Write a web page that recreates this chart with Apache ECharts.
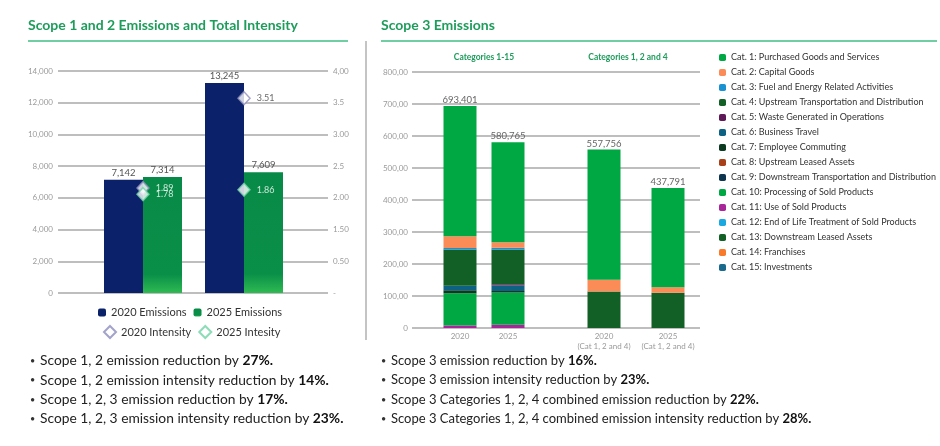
<!DOCTYPE html>
<html>
<head>
<meta charset="utf-8">
<script src="https://cdn.jsdelivr.net/npm/echarts@6/dist/echarts.min.js"></script>
<style>
  html, body { margin: 0; padding: 0; background: #fff; }
  #main { width: 940px; height: 446px; }
</style>
</head>
<body>
<div id="main"></div>
<script>
// ---- Scope 1 and 2 data ----
const scope12Groups = ['Group A', 'Group B'];
const emissions2020 = [7142, 13245];
const emissions2025 = [7314, 7609];
const intensity2020 = [1.89, 3.51];
const intensity2025 = [1.78, 1.86];
const intensityTickLabels = ['-', '0.50', '1.50', '2.00', '2.5', '3.00', '3.5', '4,00'];

// ---- Scope 3 data (tonnes) ----
const scope3Bars = ['2020', '2025', '2020\n(Cat 1, 2 and 4)', '2025\n(Cat 1, 2 and 4)'];
const scope3Totals = [693401, 580765, 557756, 437791];
const scope3TickLabels = ['0', '100,00', '200,00', '300,00', '400,00', '500,00', '600,00', '700,00', '800,00'];
const catNames = [
    'Cat. 1: Purchased Goods and Services',
    'Cat. 2: Capital Goods',
    'Cat. 3: Fuel and Energy Related Activities',
    'Cat. 4: Upstream Transportation and Distribution',
    'Cat. 5: Waste Generated in Operations',
    'Cat. 6: Business Travel',
    'Cat. 7: Employee Commuting',
    'Cat. 8: Upstream Leased Assets',
    'Cat. 9: Downstream Transportation and Distribution',
    'Cat. 10: Processing of Sold Products',
    'Cat. 11: Use of Sold Products',
    'Cat. 12: End of Life Treatment of Sold Products',
    'Cat. 13: Downstream Leased Assets',
    'Cat. 14: Franchises',
    'Cat. 15: Investments'
];
const cat1 = [406756, 312765, 406756, 310791];
const cat2 = [37000, 17000, 37000, 17000];
const cat3 = [4000, 6000, 0, 0];
const cat4 = [114000, 108000, 114000, 110000];
const cat5 = [0, 4000, 0, 0];
const cat6 = [14000, 17000, 0, 0];
const cat7 = [9000, 5000, 0, 0];
const cat8 = [0, 0, 0, 0];
const cat9 = [0, 0, 0, 0];
const cat10 = [101000, 101000, 0, 0];
const cat11 = [7645, 10000, 0, 0];
const cat12 = [0, 0, 0, 0];
const cat13 = [0, 0, 0, 0];
const cat14 = [0, 0, 0, 0];
const cat15 = [0, 0, 0, 0];

const scope12Notes = [
    ['Scope 1, 2 emission reduction by ', '27%.'],
    ['Scope 1, 2 emission intensity reduction by ', '14%.'],
    ['Scope 1, 2, 3 emission reduction by ', '17%.'],
    ['Scope 1, 2, 3 emission intensity reduction by ', '23%.']
];
const scope3Notes = [
    ['Scope 3 emission reduction by ', '16%.'],
    ['Scope 3 emission intensity reduction by ', '23%.'],
    ['Scope 3 Categories 1, 2, 4 combined emission reduction by ', '22%.'],
    ['Scope 3 Categories 1, 2, 4 combined emission intensity reduction by ', '28%.']
];

// ---- layout / colours ----
const FONT = 'Lato';
const GREEN_TITLE = '#1d9c5b';
const catColors = ['#00a843', '#fb8c57', '#1a91d1', '#136027', '#5e1a56', '#0d6283',
    '#0b3a20', '#a8401a', '#0d3550', '#00a843', '#a8259a', '#1aa8e0', '#136027', '#f87a2a', '#1a6a8e'];
const catStack = [cat1, cat2, cat3, cat4, cat5, cat6, cat7, cat8, cat9, cat10, cat11, cat12, cat13, cat14, cat15];
const slotCount = 19;
const barSlots = [3, 6, 12, 16];
const dividerSlot = 9;

let slotLabels = [];
for (let i = 0; i < slotCount; i++) slotLabels.push('');
barSlots.forEach((s, i) => { slotLabels[s] = scope3Bars[i]; });

function spread(vals) {
    let out = [];
    for (let i = 0; i < slotCount; i++) out.push(null);
    barSlots.forEach((s, i) => { out[s] = vals[i]; });
    return out;
}

let chart = echarts.init(document.getElementById('main'));

// intensity points: label sits over the 2025 bar, dark when above it
function intensityData(vals) {
    return vals.map((v, i) => ({
        value: v,
        label: { color: v > emissions2025[i] / 14000 * 4 ? '#444' : '#fff' }
    }));
}

// scope 3 stacked series, Cat 15 at the bottom up to Cat 1 on top
let scope3Series = [];
for (let k = catStack.length - 1; k >= 0; k--) {
    let s = {
        name: catNames[k],
        type: 'bar',
        stack: 'scope3',
        xAxisIndex: 2,
        yAxisIndex: 4,
        barWidth: 33,
        itemStyle: { color: catColors[k] },
        data: spread(catStack[k])
    };
    if (k === 0) {
        s.label = {
            show: true,
            position: 'top',
            distance: 1,
            color: '#666',
            fontSize: 9.5,
            fontFamily: FONT,
            formatter: p => scope3Totals[barSlots.indexOf(p.dataIndex)].toLocaleString('en-US')
        };
        s.markLine = {
            silent: true,
            symbol: 'none',
            label: { show: false },
            lineStyle: { type: 'dotted', color: '#999', width: 1.3 },
            data: [[{ coord: [dividerSlot, 860000] }, { coord: [dividerSlot, 25000] }]]
        };
    }
    scope3Series.push(s);
}

let graphics = [
    { type: 'text', left: 28, top: 18, style: { text: 'Scope 1 and 2 Emissions and Total Intensity', fill: GREEN_TITLE, font: 'bold 14px ' + FONT } },
    { type: 'text', left: 381, top: 18, style: { text: 'Scope 3 Emissions', fill: GREEN_TITLE, font: 'bold 14px ' + FONT } },
    { type: 'line', shape: { x1: 28, y1: 41, x2: 348, y2: 41 }, style: { stroke: '#6fcfa2', lineWidth: 2 } },
    { type: 'line', shape: { x1: 381, y1: 41, x2: 937, y2: 41 }, style: { stroke: '#6fcfa2', lineWidth: 2 } },
    { type: 'line', shape: { x1: 366, y1: 41, x2: 366, y2: 340 }, style: { stroke: '#b0b0b0', lineWidth: 1.5 } },
    { type: 'text', x: 484, y: 57, style: { text: 'Categories 1-15', fill: GREEN_TITLE, font: 'bold 8.5px ' + FONT, align: 'center', verticalAlign: 'middle' } },
    { type: 'text', x: 628, y: 57, style: { text: 'Categories 1, 2 and 4', fill: GREEN_TITLE, font: 'bold 8.5px ' + FONT, align: 'center', verticalAlign: 'middle' } }
];

function addNotes(notes, x, size) {
    notes.forEach((n, i) => {
        let y = 361 + i * 19.3;
        graphics.push({ type: 'text', x: x, y: y, style: { text: '•', fill: '#333', font: '9px ' + FONT, verticalAlign: 'middle' } });
        graphics.push({
            type: 'text', x: x + 10, y: y,
            style: {
                text: '{n|' + n[0] + '}{b|' + n[1] + '}',
                verticalAlign: 'middle',
                rich: {
                    n: { fill: '#222', font: size + 'px ' + FONT },
                    b: { fill: '#111', font: 'bold ' + size + 'px ' + FONT }
                }
            }
        });
    });
}
addNotes(scope12Notes, 30, 13.8);
addNotes(scope3Notes, 381, 13);

const axisLabelStyle = { color: '#9a9a9a', fontSize: 8, fontFamily: FONT };
const gridLine = { show: true, lineStyle: { color: '#a8a8a8', width: 1.5 } };

let option = {
    animation: false,
    textStyle: { fontFamily: FONT },
    graphic: graphics,
    legend: [
        {
            data: ['2020 Emissions', '2025 Emissions'],
            left: 93, top: 302,
            itemWidth: 8, itemHeight: 8, itemGap: 7,
            textStyle: { fontSize: 11, color: '#333', fontFamily: FONT }
        },
        {
            data: ['2020 Intensity', '2025 Intesity'],
            left: 98, top: 320,
            itemWidth: 12, itemHeight: 12, itemGap: 7,
            textStyle: { fontSize: 11, color: '#333', fontFamily: FONT }
        },
        {
            data: catNames,
            orient: 'vertical',
            left: 714, top: 48,
            itemWidth: 7, itemHeight: 7, itemGap: 6,
            textStyle: { fontSize: 9, color: '#333', fontFamily: FONT }
        }
    ],
    grid: [
        { left: 58, right: 612, top: 71, bottom: 153 },
        { left: 92.5, right: 645.5, top: 71, bottom: 153 },
        { left: 412, right: 240, top: 72, bottom: 118 }
    ],
    xAxis: [
        { gridIndex: 0, type: 'category', data: scope12Groups, show: false },
        { gridIndex: 1, type: 'category', data: scope12Groups, show: false },
        {
            gridIndex: 2, type: 'category', data: slotLabels, boundaryGap: false,
            axisLine: { show: false }, axisTick: { show: false },
            axisLabel: Object.assign({ interval: 0, margin: 4, lineHeight: 9.5 }, axisLabelStyle)
        }
    ],
    yAxis: [
        {
            gridIndex: 0, type: 'value', min: 0, max: 14000, interval: 2000,
            axisLine: { show: false }, axisTick: { show: false },
            axisLabel: Object.assign({ margin: 5, formatter: v => v.toLocaleString('en-US') }, axisLabelStyle),
            splitLine: gridLine
        },
        {
            gridIndex: 0, type: 'value', position: 'right', min: 0, max: 4, interval: 4 / 7,
            axisLine: { show: false }, axisTick: { show: false }, splitLine: { show: false },
            axisLabel: Object.assign({ margin: 5, formatter: v => intensityTickLabels[Math.round(v * 7 / 4)] }, axisLabelStyle)
        },
        { gridIndex: 1, type: 'value', min: 0, max: 14000, show: false, splitLine: { show: false } },
        { gridIndex: 1, type: 'value', min: 0, max: 4, show: false, splitLine: { show: false } },
        {
            gridIndex: 2, type: 'value', min: 0, max: 800000, interval: 100000,
            axisLine: { show: false }, axisTick: { show: false },
            axisLabel: Object.assign({ margin: 4, formatter: v => scope3TickLabels[Math.round(v / 100000)] }, axisLabelStyle),
            splitLine: gridLine
        }
    ],
    series: [
        {
            name: '2020 Emissions', type: 'bar', xAxisIndex: 1, yAxisIndex: 2,
            barWidth: 39, barGap: '0%',
            itemStyle: { color: '#0b226a' },
            label: { show: true, position: 'top', distance: 2, color: '#555', fontSize: 9.5, formatter: p => p.value.toLocaleString('en-US') },
            data: emissions2020
        },
        {
            name: '2025 Emissions', type: 'bar', xAxisIndex: 1, yAxisIndex: 2,
            barWidth: 39, barGap: '0%',
            itemStyle: {
                color: new echarts.graphic.LinearGradient(0, 0, 0, 1, [
                    { offset: 0, color: '#078a47' },
                    { offset: 0.84, color: '#0a8f48' },
                    { offset: 1, color: '#2fba52' }
                ])
            },
            label: { show: true, position: 'top', distance: 2, color: '#555', fontSize: 9.5, formatter: p => p.value.toLocaleString('en-US') },
            data: emissions2025
        },
        {
            name: '2020 Intensity', type: 'scatter', xAxisIndex: 1, yAxisIndex: 3,
            symbol: 'diamond', symbolSize: [12, 13], z: 10,
            itemStyle: { color: '#fff', borderColor: '#8c8cbd', borderWidth: 1.5 },
            label: { show: true, position: 'right', distance: 6, offset: [0, -2], fontSize: 9, formatter: p => p.value.toFixed(2) },
            labelLayout: { hideOverlap: false },
            data: intensityData(intensity2020)
        },
        {
            name: '2025 Intesity', type: 'scatter', xAxisIndex: 1, yAxisIndex: 3,
            symbol: 'diamond', symbolSize: [12, 13], z: 10,
            itemStyle: { color: '#fff', borderColor: '#6fd3a6', borderWidth: 1.5 },
            label: { show: true, position: 'right', distance: 6, offset: [0, 2], fontSize: 9, formatter: p => p.value.toFixed(2) },
            labelLayout: { hideOverlap: false },
            data: intensityData(intensity2025)
        }
    ].concat(scope3Series)
};

chart.setOption(option);

window.onresize = () => {
    chart.resize();
};
</script>
</body>
</html>
